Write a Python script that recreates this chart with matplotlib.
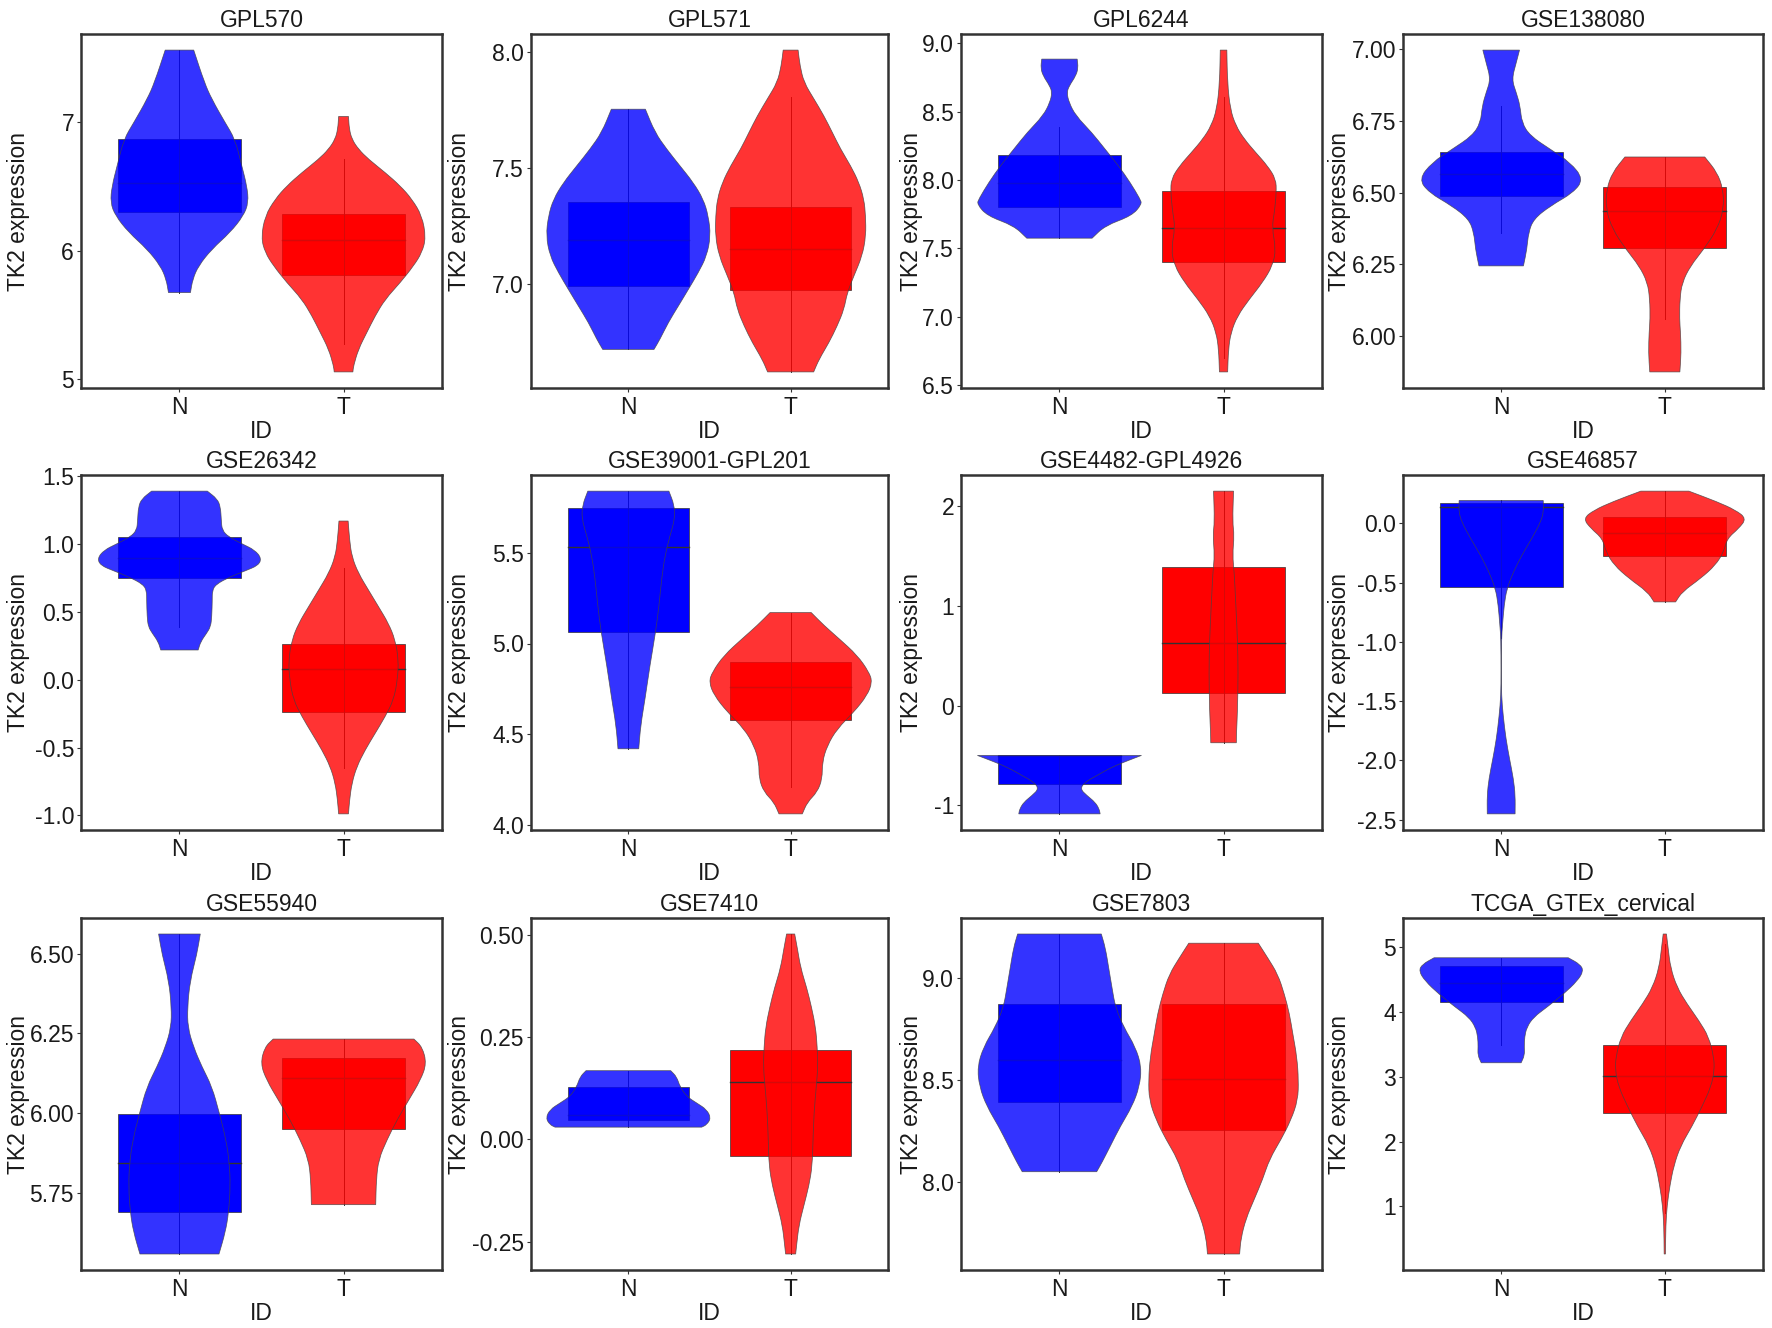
import numpy as np
import matplotlib.pyplot as plt
from matplotlib.path import Path
from matplotlib.patches import PathPatch, Rectangle

plt.rcParams['font.family'] = ['Liberation Sans', 'DejaVu Sans']

# ----- values ----- #
# each violin: expression values (bottom -> top) and half width of the density there
# each box: whisker low, Q1, median, Q3, whisker high

titles = ['GPL570', 'GPL571', 'GPL6244', 'GSE138080',
          'GSE26342', 'GSE39001-GPL201', 'GSE4482-GPL4926', 'GSE46857',
          'GSE55940', 'GSE7410', 'GSE7803', 'TCGA_GTEx_cervical']
groups = ['N', 'T']

yticks = [[5, 6, 7], [7.0, 7.5, 8.0], [6.5, 7.0, 7.5, 8.0, 8.5, 9.0],
          [6.00, 6.25, 6.50, 6.75, 7.00],
          [-1.0, -0.5, 0.0, 0.5, 1.0, 1.5], [4.0, 4.5, 5.0, 5.5], [-1, 0, 1, 2],
          [-2.5, -2.0, -1.5, -1.0, -0.5, 0.0],
          [5.75, 6.00, 6.25, 6.50], [-0.25, 0.00, 0.25, 0.50], [8.0, 8.5, 9.0],
          [1, 2, 3, 4, 5]]
tick_decimals = [0, 1, 1, 2, 1, 1, 0, 1, 2, 2, 1, 0]

# GPL570
gpl570_n_y = [5.675, 5.779, 5.883, 6.013, 6.143, 6.273, 6.377, 6.506, 6.662, 6.870, 7.0, 7.182, 7.312, 7.564]
gpl570_n_w = [0.067, 0.081, 0.116, 0.197, 0.309, 0.390, 0.421, 0.411, 0.380, 0.339, 0.278, 0.197, 0.152, 0.087]
gpl570_n_box = [5.675, 6.306, 6.525, 6.875, 7.564]
gpl570_t_y = [5.057, 5.104, 5.234, 5.364, 5.494, 5.623, 5.753, 5.883, 5.987, 6.104, 6.273, 6.403, 6.506,
              6.610, 6.714, 6.792, 6.870, 6.95, 7.047]
gpl570_t_w = [0.057, 0.061, 0.091, 0.142, 0.193, 0.254, 0.346, 0.427, 0.478, 0.502, 0.478, 0.417, 0.346,
              0.254, 0.152, 0.091, 0.051, 0.035, 0.030]
gpl570_t_box = [5.273, 5.810, 6.086, 6.291, 6.714]

# GPL571
gpl571_n_y = [6.719, 6.763, 6.835, 6.906, 6.978, 7.050, 7.122, 7.209, 7.295, 7.367, 7.439, 7.511, 7.583, 7.655, 7.755]
gpl571_n_w = [0.158, 0.195, 0.246, 0.308, 0.370, 0.431, 0.483, 0.507, 0.493, 0.462, 0.400, 0.318, 0.236, 0.164, 0.105]
gpl571_n_box = [6.719, 6.993, 7.191, 7.353, 7.755]
gpl571_t_y = [6.622, 6.676, 6.748, 6.820, 6.892, 6.964, 7.036, 7.122, 7.209, 7.295, 7.367, 7.439, 7.511,
              7.583, 7.655, 7.727, 7.799, 7.871, 7.942, 8.010]
gpl571_t_w = [0.142, 0.175, 0.236, 0.287, 0.329, 0.349, 0.390, 0.441, 0.464, 0.462, 0.452, 0.421, 0.370,
              0.308, 0.257, 0.205, 0.144, 0.082, 0.058, 0.046]
gpl571_t_box = [6.622, 6.976, 7.154, 7.335, 7.806]

# GPL6244
gpl6244_n_y = [7.574, 7.665, 7.738, 7.823, 7.860, 7.982, 8.104, 8.226, 8.348, 8.470, 8.568, 8.641, 8.690,
               8.763, 8.820, 8.885]
gpl6244_n_w = [0.199, 0.278, 0.441, 0.502, 0.492, 0.431, 0.360, 0.278, 0.197, 0.100, 0.058, 0.045, 0.060,
               0.100, 0.114, 0.108]
gpl6244_n_box = [7.574, 7.804, 7.975, 8.182, 8.385]
gpl6244_t_y = [6.595, 6.761, 6.883, 7.005, 7.127, 7.250, 7.372, 7.494, 7.652, 7.763, 7.909, 8.007, 8.104,
               8.200, 8.300, 8.397, 8.519, 8.714, 8.951]
gpl6244_t_w = [0.025, 0.030, 0.045, 0.085, 0.157, 0.238, 0.299, 0.319, 0.295, 0.310, 0.322, 0.319, 0.268,
               0.197, 0.126, 0.075, 0.041, 0.024, 0.020]
gpl6244_t_box = [6.700, 7.403, 7.652, 7.916, 8.605]

# GSE138080
gse138080_n_y = [6.244, 6.302, 6.360, 6.407, 6.453, 6.500, 6.547, 6.605, 6.651, 6.698, 6.744, 6.802, 6.849,
                 6.895, 6.953, 6.997]
gse138080_n_w = [0.136, 0.157, 0.167, 0.198, 0.300, 0.442, 0.503, 0.422, 0.300, 0.177, 0.126, 0.116, 0.092,
                 0.065, 0.092, 0.112]
gse138080_n_box = [6.360, 6.488, 6.564, 6.640, 6.802]
gse138080_t_y = [5.874, 5.942, 6.012, 6.058, 6.128, 6.186, 6.244, 6.302, 6.372, 6.442, 6.512, 6.570, 6.624]
gse138080_t_w = [0.092, 0.100, 0.096, 0.090, 0.092, 0.106, 0.157, 0.238, 0.320, 0.360, 0.356, 0.320, 0.244]
gse138080_t_box = [6.058, 6.305, 6.436, 6.520, 6.624]

# GSE26342
gse26342_n_y = [0.218, 0.280, 0.340, 0.390, 0.463, 0.586, 0.650, 0.700, 0.757, 0.800, 0.840, 0.892, 0.953,
                1.000, 1.050, 1.100, 1.174, 1.272, 1.330, 1.387]
gse26342_n_w = [0.114, 0.130, 0.165, 0.190, 0.197, 0.200, 0.200, 0.220, 0.310, 0.400, 0.480, 0.500, 0.460,
                0.380, 0.300, 0.260, 0.255, 0.250, 0.230, 0.170]
gse26342_n_box = [0.390, 0.745, 0.892, 1.051, 1.387]
gse26342_t_y = [-0.988, -0.885, -0.762, -0.640, -0.517, -0.395, -0.272, -0.150, 0.000, 0.145, 0.292, 0.414,
                0.537, 0.659, 0.782, 0.904, 1.027, 1.167]
gse26342_t_w = [0.030, 0.037, 0.051, 0.081, 0.132, 0.193, 0.254, 0.305, 0.329, 0.335, 0.315, 0.274,
                0.213, 0.152, 0.091, 0.051, 0.037, 0.028]
gse26342_t_box = [-0.652, -0.235, 0.076, 0.262, 0.819]

# GSE39001-GPL201
gse39001_n_y = [4.421, 4.550, 4.696, 4.880, 5.063, 5.210, 5.357, 5.485, 5.595, 5.687, 5.761, 5.838]
gse39001_n_w = [0.064, 0.076, 0.103, 0.133, 0.168, 0.189, 0.205, 0.226, 0.257, 0.287, 0.283, 0.250]
gse39001_n_box = [4.421, 5.063, 5.531, 5.746, 5.838]
gse39001_t_y = [4.063, 4.127, 4.183, 4.256, 4.348, 4.439, 4.531, 4.623, 4.715, 4.788, 4.843, 4.935, 5.027,
                5.100, 5.170]
gse39001_t_w = [0.072, 0.103, 0.164, 0.195, 0.195, 0.226, 0.287, 0.390, 0.472, 0.503, 0.483, 0.411, 0.298,
                0.205, 0.127]
gse39001_t_box = [4.210, 4.581, 4.761, 4.898, 5.170]

# GSE4482-GPL4926
gse4482_n_y = [-1.084, -1.034, -0.967, -0.900, -0.833, -0.766, -0.700, -0.616, -0.549, -0.499]
gse4482_n_w = [0.248, 0.242, 0.217, 0.167, 0.126, 0.156, 0.228, 0.319, 0.420, 0.500]
gse4482_n_box = [-1.084, -0.790, -0.500, -0.499, -0.499]
gse4482_t_y = [-0.372, -0.265, -0.065, 0.335, 0.670, 1.000, 1.338, 1.506, 1.706, 1.840, 2.147]
gse4482_t_w = [0.078, 0.079, 0.085, 0.089, 0.085, 0.075, 0.065, 0.055, 0.065, 0.055, 0.061]
gse4482_t_box = [-0.372, 0.126, 0.630, 1.389, 2.147]

# GSE46857
gse46857_n_y = [-2.451, -2.296, -2.155, -1.986, -1.817, -1.620, -1.451, -1.254, -0.972, -0.859, -0.690,
                -0.549, -0.408, -0.268, -0.127, 0.014, 0.099, 0.194]
gse46857_n_w = [0.085, 0.086, 0.075, 0.051, 0.029, 0.012, 0.002, 0.001, 0.002, 0.008, 0.018,
                0.035, 0.075, 0.126, 0.187, 0.242, 0.259, 0.257]
gse46857_n_box = [-0.970, -0.535, 0.141, 0.177, 0.194]
gse46857_t_y = [-0.662, -0.577, -0.465, -0.352, -0.239, -0.127, -0.042, 0.042, 0.113, 0.183, 0.273]
gse46857_t_w = [0.066, 0.106, 0.218, 0.310, 0.360, 0.381, 0.452, 0.499, 0.432, 0.320, 0.147]
gse46857_t_box = [-0.662, -0.276, -0.079, 0.056, 0.273]

# GSE55940
gse55940_n_y = [5.557, 5.626, 5.688, 5.771, 5.844, 5.916, 6.000, 6.083, 6.145, 6.207, 6.269, 6.332, 6.415,
                6.498, 6.562]
gse55940_n_w = [0.241, 0.280, 0.300, 0.310, 0.304, 0.284, 0.243, 0.198, 0.137, 0.086, 0.051, 0.049, 0.065,
                0.106, 0.127]
gse55940_n_box = [5.557, 5.688, 5.842, 5.997, 6.562]
gse55940_t_y = [5.712, 5.792, 5.854, 5.916, 5.979, 6.041, 6.103, 6.155, 6.207, 6.232]
gse55940_t_w = [0.196, 0.200, 0.214, 0.265, 0.327, 0.398, 0.469, 0.506, 0.480, 0.429]
gse55940_t_box = [5.712, 5.950, 6.109, 6.174, 6.232]

# GSE7410
gse7410_n_y = [0.030, 0.036, 0.052, 0.073, 0.089, 0.105, 0.129, 0.153, 0.168]
gse7410_n_w = [0.452, 0.483, 0.509, 0.483, 0.421, 0.359, 0.318, 0.298, 0.261]
gse7410_n_box = [0.030, 0.047, 0.060, 0.127, 0.168]
gse7410_t_y = [-0.280, -0.258, -0.210, -0.161, -0.113, -0.065, 0.000, 0.065, 0.129, 0.177, 0.226, 0.274,
               0.323, 0.371, 0.419, 0.468, 0.502]
gse7410_t_w = [0.031, 0.037, 0.051, 0.082, 0.113, 0.133, 0.138, 0.144, 0.158, 0.168, 0.164, 0.154,
               0.129, 0.099, 0.062, 0.041, 0.025]
gse7410_t_box = [-0.280, -0.040, 0.140, 0.218, 0.502]

# GSE7803
gse7803_n_y = [8.052, 8.097, 8.177, 8.274, 8.371, 8.468, 8.565, 8.661, 8.758, 8.855, 8.952, 9.048, 9.145, 9.213]
gse7803_n_w = [0.227, 0.259, 0.310, 0.371, 0.443, 0.488, 0.500, 0.463, 0.392, 0.341, 0.320, 0.300, 0.280, 0.255]
gse7803_n_box = [8.052, 8.392, 8.600, 8.871, 9.213]
gse7803_t_y = [7.650, 7.726, 7.823, 7.919, 8.016, 8.113, 8.210, 8.306, 8.403, 8.500, 8.613, 8.726, 8.823,
               8.919, 9.016, 9.097, 9.168]
gse7803_t_w = [0.098, 0.106, 0.137, 0.188, 0.239, 0.280, 0.351, 0.412, 0.453, 0.457, 0.447, 0.422, 0.402,
               0.371, 0.331, 0.269, 0.212]
gse7803_t_box = [7.650, 8.255, 8.506, 8.871, 9.168]

# TCGA_GTEx_cervical
tcga_n_y = [3.214, 3.331, 3.458, 3.611, 3.763, 3.916, 4.069, 4.272, 4.476, 4.628, 4.730, 4.832]
tcga_n_w = [0.122, 0.143, 0.141, 0.143, 0.157, 0.198, 0.279, 0.381, 0.466, 0.503, 0.483, 0.410]
tcga_n_box = [3.483, 4.145, 4.440, 4.700, 4.832]
tcga_t_y = [0.267, 0.710, 1.015, 1.320, 1.626, 1.931, 2.237, 2.542, 2.847, 3.102, 3.305, 3.611, 3.865,
            4.120, 4.374, 4.679, 4.985, 5.198]
tcga_t_w = [0.004, 0.006, 0.014, 0.031, 0.055, 0.096, 0.167, 0.228, 0.283, 0.303, 0.299, 0.269, 0.208,
            0.136, 0.075, 0.035, 0.020, 0.010]
tcga_t_box = [0.900, 2.440, 3.015, 3.494, 5.050]

panels = [
    (gpl570_n_y, gpl570_n_w, gpl570_n_box, gpl570_t_y, gpl570_t_w, gpl570_t_box),
    (gpl571_n_y, gpl571_n_w, gpl571_n_box, gpl571_t_y, gpl571_t_w, gpl571_t_box),
    (gpl6244_n_y, gpl6244_n_w, gpl6244_n_box, gpl6244_t_y, gpl6244_t_w, gpl6244_t_box),
    (gse138080_n_y, gse138080_n_w, gse138080_n_box, gse138080_t_y, gse138080_t_w, gse138080_t_box),
    (gse26342_n_y, gse26342_n_w, gse26342_n_box, gse26342_t_y, gse26342_t_w, gse26342_t_box),
    (gse39001_n_y, gse39001_n_w, gse39001_n_box, gse39001_t_y, gse39001_t_w, gse39001_t_box),
    (gse4482_n_y, gse4482_n_w, gse4482_n_box, gse4482_t_y, gse4482_t_w, gse4482_t_box),
    (gse46857_n_y, gse46857_n_w, gse46857_n_box, gse46857_t_y, gse46857_t_w, gse46857_t_box),
    (gse55940_n_y, gse55940_n_w, gse55940_n_box, gse55940_t_y, gse55940_t_w, gse55940_t_box),
    (gse7410_n_y, gse7410_n_w, gse7410_n_box, gse7410_t_y, gse7410_t_w, gse7410_t_box),
    (gse7803_n_y, gse7803_n_w, gse7803_n_box, gse7803_t_y, gse7803_t_w, gse7803_t_box),
    (tcga_n_y, tcga_n_w, tcga_n_box, tcga_t_y, tcga_t_w, tcga_t_box),
]

# ----- style / layout ----- #
fill_cols = ['#0000FF', '#FF0000']
line_col = '#333333'
box_width = 0.75
fs = 16.5

W, H = 1772, 1328
col_left = [81, 531, 961, 1403]
col_right = [442, 888, 1322, 1763]
row_top = [34, 475, 918]
row_bottom = [388, 830, 1270]
ylab_x = [-0.172, -0.200, -0.138, -0.176]


def smooth_side(pts):
    # quadratic bezier through the midpoints, only to render the outline smoothly
    verts = [pts[0], ((pts[0][0] + pts[1][0]) / 2, (pts[0][1] + pts[1][1]) / 2)]
    codes = [Path.LINETO, Path.LINETO]
    for i in range(1, len(pts) - 1):
        nxt = pts[i + 1]
        verts += [pts[i], ((pts[i][0] + nxt[0]) / 2, (pts[i][1] + nxt[1]) / 2)]
        codes += [Path.CURVE3, Path.CURVE3]
    verts.append(pts[-1])
    codes.append(Path.LINETO)
    return verts, codes


def violin_patch(c, y, w, color):
    y = np.asarray(y, float)
    w = np.asarray(w, float)
    right = list(zip(c + w, y))
    left = list(zip((c - w)[::-1], y[::-1]))
    v1, c1 = smooth_side(right)
    v2, c2 = smooth_side(left)
    verts = v1 + v2 + [right[0]]
    codes = c1 + c2 + [Path.CLOSEPOLY]
    codes[0] = Path.MOVETO
    return PathPatch(Path(verts, codes), facecolor=color, alpha=0.8,
                     edgecolor='#444444', linewidth=0.55, zorder=3)


fig = plt.figure(figsize=(W / 100, H / 100), dpi=100)

for k, (title, pan) in enumerate(zip(titles, panels)):
    r, c = divmod(k, 4)
    ax = fig.add_axes([col_left[c] / W, 1 - row_bottom[r] / H,
                       (col_right[c] - col_left[c]) / W, (row_bottom[r] - row_top[r]) / H])
    lo_all, hi_all = [], []
    for g in range(2):
        y, w, box = pan[3 * g], pan[3 * g + 1], pan[3 * g + 2]
        x = g + 1
        wl, q1, med, q3, wh = box
        ax.add_patch(Rectangle((x - box_width / 2, q1), box_width, q3 - q1,
                               facecolor=fill_cols[g], edgecolor=line_col, linewidth=0.5, zorder=2))
        ax.plot([x - box_width / 2, x + box_width / 2], [med, med], color=line_col, lw=1.0, zorder=2.5)
        ax.plot([x, x], [wl, wh], color=line_col, lw=0.7, zorder=2.5)
        ax.add_patch(violin_patch(x, y, w, fill_cols[g]))
        lo_all.append(min(y))
        hi_all.append(max(y))
    lo, hi = min(lo_all), max(hi_all)
    pad = (hi - lo) * 0.05
    ax.set_ylim(lo - pad, hi + pad)
    ax.set_xlim(0.4, 2.6)

    ax.set_xticks([1, 2])
    ax.set_xticklabels(groups)
    ax.set_yticks(yticks[k])
    ax.set_yticklabels([f"{v:.{tick_decimals[k]}f}" for v in yticks[k]])
    ax.tick_params(axis='both', length=3, width=0.8, color=line_col, labelsize=fs, labelcolor='#1a1a1a')
    ax.tick_params(axis='x', pad=2.5)
    ax.tick_params(axis='y', pad=2)
    for s in ax.spines.values():
        s.set_color(line_col)
        s.set_linewidth(1.8)

    ax.set_title(title, fontsize=fs, pad=5, color='#1a1a1a')
    ax.set_xlabel('ID', fontsize=fs, labelpad=1, color='#1a1a1a')
    ax.set_ylabel('TK2 expression', fontsize=fs, color='#1a1a1a', va='center')
    ax.yaxis.set_label_coords(ylab_x[c], 0.5)

fig.savefig('out.png', dpi=100)
